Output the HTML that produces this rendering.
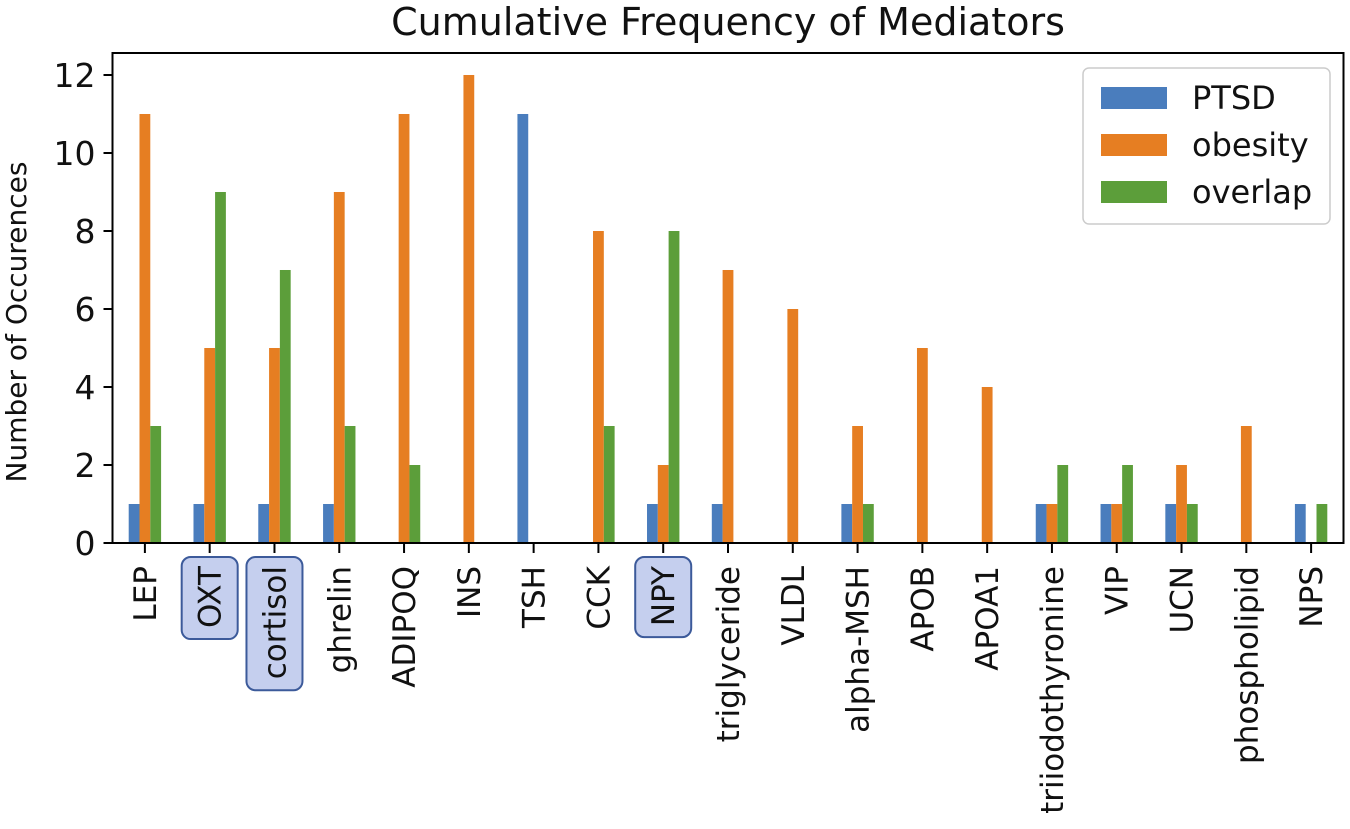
<!DOCTYPE html>
<html><head><meta charset="utf-8"><style>
body{margin:0;background:#fff;}
svg{display:block;font-family:"DejaVu Sans","Liberation Sans",sans-serif;}
</style></head><body>
<svg id="chart" width="1350" height="829">
<text x="728" y="35" font-size="38" text-anchor="middle" fill="#111">Cumulative Frequency of Mediators</text>
<text transform="translate(26,322) rotate(-90)" font-size="28" text-anchor="middle" fill="#111">Number of Occurences</text>
<g id="bars"></g><g id="yt"></g><g id="xt"></g>
<rect x="112.5" y="53" width="1231" height="490" fill="none" stroke="#000" stroke-width="2"/>
<g>
<rect x="1083" y="68" width="247" height="156" rx="6" fill="#fff" stroke="#ccc" stroke-width="1.5"/>
<rect x="1101" y="87" width="66" height="22" fill="#4a7dbd"/>
<text x="1192" y="109" font-size="32" fill="#111">PTSD</text>
<rect x="1101" y="134" width="66" height="22" fill="#e67e22"/>
<text x="1192" y="156" font-size="32" fill="#111">obesity</text>
<rect x="1101" y="181" width="66" height="22" fill="#5c9e3a"/>
<text x="1192" y="203" font-size="32" fill="#111">overlap</text>
</g>
</svg>
<script>
const categories=["LEP","OXT","cortisol","ghrelin","ADIPOQ","INS","TSH","CCK","NPY","triglyceride","VLDL","alpha-MSH","APOB","APOA1","triiodothyronine","VIP","UCN","phospholipid","NPS"];
const ptsd=[1,1,1,1,0,0,11,0,1,1,0,1,0,0,1,1,1,0,1];
const obesity=[11,5,5,9,11,12,0,8,2,7,6,3,5,4,1,1,2,3,0];
const overlap=[3,9,7,3,2,0,0,3,8,0,0,1,0,0,2,2,1,0,1];
const yTicks=[0,2,4,6,8,10,12];
const highlighted=["OXT","cortisol","NPY"];
const NS="http://www.w3.org/2000/svg";
const L=112.5,R=1343.5,T=53,B=543,ymax=12.564;
const step=(R-L)/categories.length;
const xs=i=>L+step*(i+0.5);
const ys=v=>B-v/ymax*(B-T);
const bw=step/6;
function mk(tag,at,parent){const e=document.createElementNS(NS,tag);for(const k in at)e.setAttribute(k,at[k]);parent.appendChild(e);return e;}
const gb=document.getElementById('bars'),gy=document.getElementById('yt'),gx=document.getElementById('xt');
const series=[[ptsd,"#4a7dbd","ptsd"],[obesity,"#e67e22","obesity"],[overlap,"#5c9e3a","overlap"]];
series.forEach((s,j)=>{s[0].forEach((v,i)=>{
 const r=mk('rect',{x:xs(i)+(j-1)*bw-bw/2,y:ys(v),width:bw,height:B-ys(v),fill:s[1]},gb);
 
 
});});
yTicks.forEach(t=>{
 const y=ys(t);
 const l=mk('line',{x1:L-9,x2:L,y1:y,y2:y,stroke:"#000","stroke-width":2},gy);
 
 
 const tx=mk('text',{x:L-17,y:y+12,"font-size":33,"text-anchor":"end",fill:"#111"},gy);
 tx.textContent=t;
 
 
});
categories.forEach((c,i)=>{
 const x=xs(i);
 const l=mk('line',{x1:x,x2:x,y1:B,y2:B+10,stroke:"#000","stroke-width":2},gx);
 
 
 const tx=mk('text',{transform:`translate(${x+11},566) rotate(-90)`,"font-size":31,"text-anchor":"end",fill:"#111"},gx);
 tx.textContent=c;
 
 
 if(highlighted.includes(c)){
  const len=tx.getComputedTextLength();
  const bx=mk('rect',{x:x-28,y:557,width:56,height:len+20,rx:9,fill:"#c5cfee",stroke:"#3c5a9a","stroke-width":2},gx);
  gx.insertBefore(bx,tx);
  
  
 }
});
</script>
</body></html>
